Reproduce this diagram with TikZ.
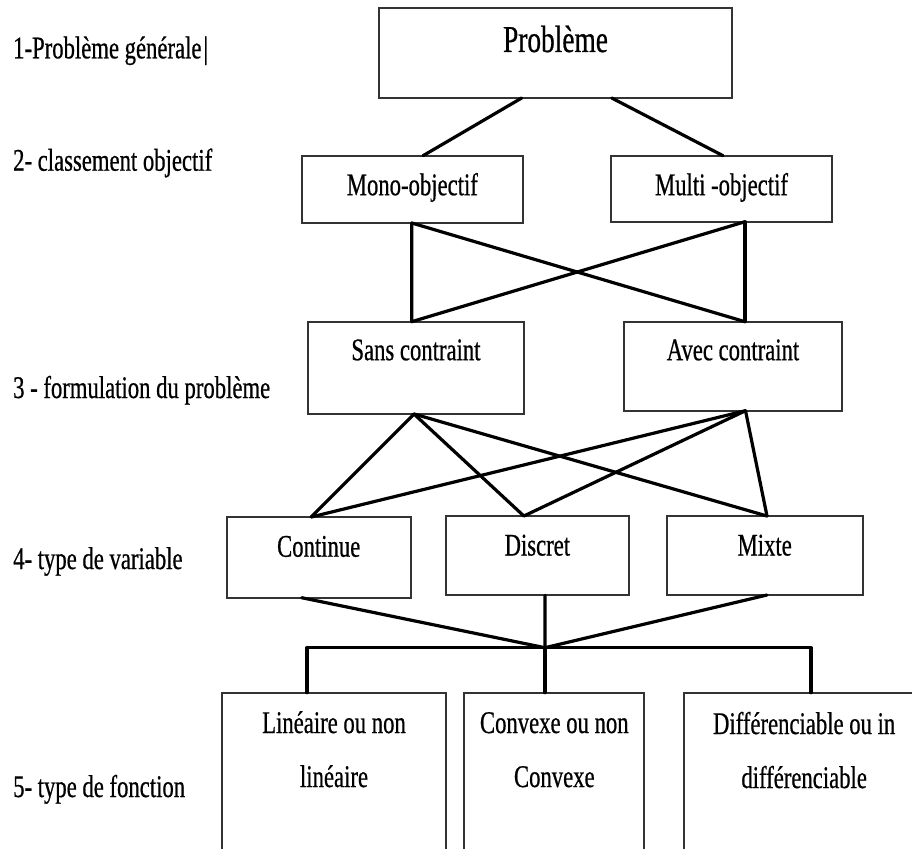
\documentclass[tikz,border=0pt]{standalone}
\usepackage{fontspec}
\setmainfont{Liberation Serif}[FakeStretch=0.72,FakeBold=0.6]
\begin{document}
\begin{tikzpicture}[x=1pt,y=-1pt,
  box/.style={draw=black!80, line width=1.8pt, inner sep=0pt, outer sep=0pt, rectangle},
  conn/.style={draw=black, line width=3.2pt, line cap=round, line join=round},
  lbl/.style={anchor=base, inner sep=0pt, font=\fontsize{31.5}{54}\selectfont, align=center},
  side/.style={anchor=base west, inner sep=0pt, font=\fontsize{31.5}{38}\selectfont}]
\useasboundingbox (0,0) rectangle (912,848);
\clip (0,0) rectangle (912,848);
\fill[white] (0,0) rectangle (912,848);

% left labels
\node[side] (l1) at (13,58.3) {1-Problème générale\kern2pt|};
\node[side] (l2) at (13,170.7) {2- classement objectif};
\node[side] (l3) at (13,398) {3 - formulation du problème};
\node[side] (l4) at (13,569) {4- type de variable};
\node[side] (l5) at (13,797) {5- type de fonction};

% boxes
\node[box, minimum width=353pt, minimum height=90pt] (prob) at (555.5,53) {};
\node[box, minimum width=221.3pt, minimum height=67.3pt] (mono) at (412.35,189.35) {};
\node[box, minimum width=221pt, minimum height=66pt] (multi) at (721.5,188.7) {};
\node[box, minimum width=216pt, minimum height=92.3pt] (sans) at (416,367.85) {};
\node[box, minimum width=218pt, minimum height=89pt] (avec) at (733,366.2) {};
\node[box, minimum width=184pt, minimum height=80.7pt] (cont) at (318.7,557.35) {};
\node[box, minimum width=183.3pt, minimum height=79.3pt] (disc) at (537.35,555.65) {};
\node[box, minimum width=196pt, minimum height=79pt] (mixte) at (764.7,555.5) {};
\node[box, minimum width=223.4pt, minimum height=177.3pt] (lin) at (334,781.35) {};
\node[box, minimum width=180pt, minimum height=177.3pt] (conv) at (554.3,781.35) {};
\node[box, minimum width=239.7pt, minimum height=177.3pt] (diff) at (804.15,781.35) {};

% texts
\node[lbl, font=\fontsize{38}{40}\selectfont] (probT) at ([yshift=-44pt]prob.north) {Problème};
\node[lbl] (monoT) at ([yshift=-39.5pt]mono.north) {Mono-objectif};
\node[lbl] (multiT) at ([yshift=-39.5pt]multi.north) {Multi -objectif};
\node[lbl] (sansT) at ([yshift=-38.5pt]sans.north) {Sans contraint};
\node[lbl] (avecT) at ([yshift=-38.5pt]avec.north) {Avec contraint};
\node[lbl] (contT) at ([yshift=-39.7pt]cont.north) {Continue};
\node[lbl] (discT) at ([yshift=-39.5pt]disc.north) {Discret};
\node[lbl] (mixteT) at ([yshift=-39.5pt]mixte.north) {Mixte};
\node[lbl] (linT) at ([yshift=-94.3pt]lin.north) {Linéaire ou non\\linéaire};
\node[lbl] (convT) at ([yshift=-94.3pt]conv.north) {Convexe ou non\\Convexe};
\node[lbl] (diffT) at ([yshift=-95.3pt]diff.north) {Différenciable ou in\\différenciable};

% connectors level 1-2
\draw[conn] ([xshift=-33.8pt]prob.south) -- ([xshift=10.7pt]mono.north);
\draw[conn] ([xshift=56.2pt]prob.south) -- ([xshift=1.5pt]multi.north);
% level 2-3
\draw[conn] ([xshift=-0.6pt]mono.south) -- ([xshift=-4.3pt]sans.north);
\draw[conn] ([xshift=-0.6pt]mono.south) -- ([xshift=12pt]avec.north);
\draw[conn] ([xshift=23.5pt]multi.south) -- ([xshift=-4.3pt]sans.north);
\draw[conn] ([xshift=23.5pt]multi.south) -- ([xshift=12pt]avec.north);
% level 3-4
\draw[conn] ([xshift=-2pt]sans.south) -- ([xshift=-7.5pt]cont.north);
\draw[conn] ([xshift=-2pt]sans.south) -- ([xshift=-13.5pt]disc.north);
\draw[conn] ([xshift=-2pt]sans.south) -- ([xshift=2.3pt]mixte.north);
\draw[conn] ([xshift=12.5pt]avec.south) -- ([xshift=-7.5pt]cont.north);
\draw[conn] ([xshift=12.5pt]avec.south) -- ([xshift=-13.5pt]disc.north);
\draw[conn] ([xshift=12.5pt]avec.south) -- ([xshift=2.3pt]mixte.north);
% level 4-5
\coordinate (jn) at (545,647.7);
\draw[conn] ([xshift=-17pt]cont.south) -- (jn);
\draw[conn] ([xshift=7.7pt]disc.south) -- (jn);
\draw[conn] ([xshift=2.3pt]mixte.south) -- (jn);
\draw[conn] ([xshift=-27pt]lin.north) |- (jn) -| ([xshift=6.8pt]diff.north);
\draw[conn] (jn) -- ([xshift=-9.3pt]conv.north);
\end{tikzpicture}
\end{document}
